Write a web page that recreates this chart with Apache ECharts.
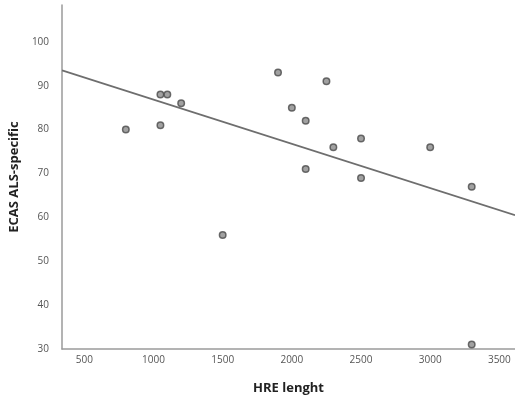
<!DOCTYPE html>
<html>
<head>
<meta charset="utf-8">
<script src="https://cdn.jsdelivr.net/npm/echarts@6/dist/echarts.min.js"></script>
<style>
  html, body { margin: 0; padding: 0; background: #fff; }
  #chart { width: 515px; height: 400px; }
</style>
</head>
<body>
<div id="chart"></div>
<script>
// HRE length vs. ECAS ALS-specific score, one point per subject
const hreLength = [800, 1050, 1050, 1100, 1200, 1500, 1900, 2000, 2100, 2100, 2250, 2300, 2500, 2500, 3000, 3300, 3300];
const ecasScore = [80, 81, 88, 88, 86, 56, 93, 85, 82, 71, 91, 76, 78, 69, 76, 67, 31];

// Linear fit, drawn edge to edge across the x range
const fitX = [339, 3613];
const fitY = [93.5, 60.5];

// Tick labels
const xTicks = [500, 1000, 1500, 2000, 2500, 3000, 3500];
const yTicks = [30, 40, 50, 60, 70, 80, 90, 100];

const points = hreLength.map((x, i) => [x, ecasScore[i]]);
const fitPoints = fitX.map((x, i) => [x, fitY[i]]);

const labelStyle = { color: '#555', fontSize: 10, fontFamily: 'Open Sans', formatter: v => String(v) };
const nameStyle = { color: '#222', fontSize: 13, fontWeight: 'bold', fontFamily: 'Open Sans' };
const axisLine = { show: true, lineStyle: { color: '#9a9a9a', width: 1.5 } };

const chart = echarts.init(document.getElementById('chart'), null, { renderer: 'canvas' });
chart.setOption({
  animation: false,
  backgroundColor: '#fff',
  grid: { left: 59, right: 0, top: 5, bottom: 46, containLabel: false },
  xAxis: {
    type: 'value',
    min: fitX[0],
    max: fitX[1],
    name: 'HRE lenght',
    nameLocation: 'middle',
    nameGap: 33,
    nameTextStyle: nameStyle,
    axisLine: axisLine,
    axisTick: { show: false },
    splitLine: { show: false },
    axisLabel: Object.assign({ customValues: xTicks, margin: 6 }, labelStyle)
  },
  yAxis: {
    type: 'value',
    min: 30,
    max: 108.4,
    name: 'ECAS ALS-specific',
    nameLocation: 'middle',
    nameGap: 32,
    nameTextStyle: nameStyle,
    axisLine: axisLine,
    axisTick: { show: false },
    splitLine: { show: false },
    axisLabel: Object.assign({ customValues: yTicks, margin: 13 }, labelStyle)
  },
  series: [
    {
      type: 'line',
      data: fitPoints,
      symbol: 'none',
      lineStyle: { color: '#6e6e6e', width: 1.6 },
      z: 2
    },
    {
      type: 'scatter',
      data: points,
      symbol: 'circle',
      symbolSize: 6.5,
      itemStyle: { color: '#8a8a8a', borderColor: '#4a4a4a', borderWidth: 1.5 },
      z: 3
    }
  ]
});
</script>
</body>
</html>
